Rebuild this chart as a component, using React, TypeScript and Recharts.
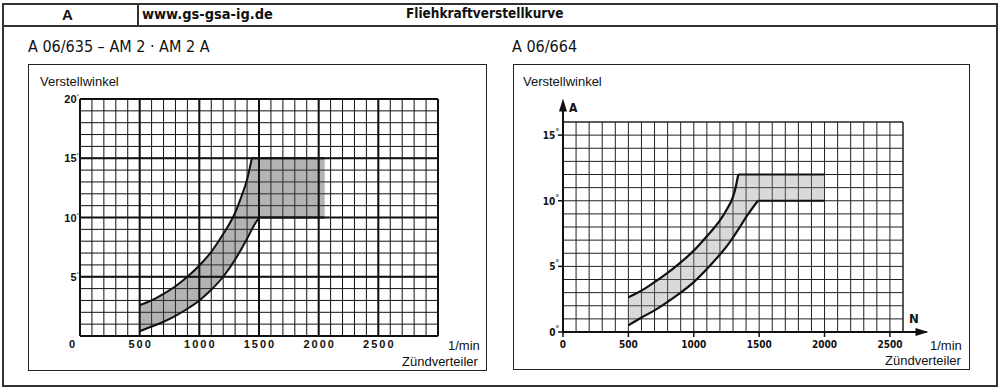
import React from "react";
import {
  ComposedChart,
  Area,
  Line,
  XAxis,
  YAxis,
  CartesianGrid,
  ReferenceLine,
  ReferenceDot,
} from "recharts";

// A 06/635 – AM 2 · AM 2 A (left diagram), degrees vs. rpm
const leftRpm = [500, 600, 700, 800, 900, 1000, 1100, 1200, 1300, 1350, 1400, 1440, 1500, 2050];
const leftUpper = [2.6, 3.0, 3.55, 4.2, 5.0, 5.95, 7.1, 8.6, 10.4, 11.7, 13.2, 15, 15, 15];
const leftLower = [0.4, 0.8, 1.2, 1.7, 2.3, 3.0, 3.9, 5.0, 6.45, 7.3, 8.2, 9.0, 10, 10];
const leftKnee = { upper: 1440, lower: 1500 };

// A 06/664 (right diagram)
const rightRpm = [500, 600, 700, 800, 900, 1000, 1100, 1200, 1250, 1300, 1320, 1340, 1400, 1490, 2000];
const rightUpper = [2.65, 3.15, 3.8, 4.5, 5.3, 6.2, 7.3, 8.5, 9.3, 10.3, 11.0, 12, 12, 12, 12];
const rightLower = [0.5, 1.1, 1.65, 2.3, 3.0, 3.8, 4.8, 5.9, 6.5, 7.2, 7.5, 7.8, 8.75, 10, 10];
const rightKnee = { upper: 1340, lower: 1490 };

// tick labels
const leftXLabels = [0, 500, 1000, 1500, 2000, 2500];
const leftYLabels = [5, 10, 15, 20];
const rightXLabels = [0, 500, 1000, 1500, 2000, 2500];
const rightYLabels = [0, 5, 10, 15];

const range = (from: number, to: number, step: number) => {
  const out: number[] = [];
  for (let v = from; v <= to; v += step) out.push(v);
  return out;
};

const SANS = "'Liberation Sans', Arial, Helvetica, sans-serif";
const NARROW = "'DejaVu Sans Condensed', 'Liberation Sans', sans-serif";

function buildRows(rpm: number[], upper: number[], lower: number[], knee: { upper: number; lower: number }) {
  return rpm.map((n, i) => ({
    rpm: n,
    band: [lower[i], upper[i]],
    upperCurve: n <= knee.upper ? upper[i] : null,
    upperFlat: n >= knee.upper ? upper[i] : null,
    lowerCurve: n <= knee.lower ? lower[i] : null,
    lowerFlat: n >= knee.lower ? lower[i] : null,
  }));
}

const leftRows = buildRows(leftRpm, leftUpper, leftLower, leftKnee);
const rightRows = buildRows(rightRpm, rightUpper, rightLower, rightKnee);

// ---------- ticks ----------
const LeftXTick = ({ x, y, payload }: any) => {
  const v = payload.value;
  if (!leftXLabels.includes(v)) return <g />;
  return (
    <text
      x={v === 0 ? x - 8 : x}
      dx={1}
      y={y + 12}
      textAnchor="middle"
      fontSize={11}
      fontWeight="bold"
      letterSpacing={2}
      fill="#111"
      fontFamily={SANS}
    >
      {v}
    </text>
  );
};

const LeftYTick = ({ x, y, payload }: any) => {
  const v = payload.value;
  if (!leftYLabels.includes(v)) return <g />;
  return (
    <text x={x - 1} y={y + 4} textAnchor="end" fontSize={11} fontWeight="bold" fill="#111" fontFamily={SANS}>
      <tspan>{v}</tspan>
      <tspan dy={-5} fontSize={6} fontWeight="normal">°</tspan>
    </text>
  );
};

const RightXTick = ({ x, y, payload }: any) => {
  const v = payload.value;
  if (!rightXLabels.includes(v)) return <g />;
  return (
    <g>
      <line x1={x} x2={x} y1={y} y2={y + 5} stroke="#111" strokeWidth={1.5} />
      <text x={x} y={y + 16} textAnchor="middle" fontSize={10} fontWeight="bold" fill="#111" fontFamily={NARROW}>
        {v}
      </text>
    </g>
  );
};

const RightYTick = ({ x, y, payload }: any) => {
  const v = payload.value;
  if (!rightYLabels.includes(v)) return <g />;
  return (
    <g>
      <line x1={x - 5} x2={x} y1={y} y2={y} stroke="#111" strokeWidth={1.5} />
      <text x={x - 4} y={y + 4} textAnchor="end" fontSize={10} fontWeight="bold" fill="#111" fontFamily={NARROW}>
        <tspan>{v}</tspan>
        <tspan dy={-4} fontSize={8}>°</tspan>
      </text>
    </g>
  );
};

const ArrowRight = ({ cx, cy }: any) => (
  <polygon points={`${cx},${cy} ${cx - 13},${cy - 4} ${cx - 13},${cy + 4}`} fill="#111" />
);
const ArrowUp = ({ cx, cy }: any) => (
  <polygon points={`${cx},${cy} ${cx - 4},${cy + 13} ${cx + 4},${cy + 13}`} fill="#111" />
);

// ---------- left diagram ----------
function LeftDiagram() {
  const xMinor = range(0, 3000, 100);
  const yMinor = range(0, 20, 1);
  const xMajor = range(0, 3000, 500);
  const yMajor = range(0, 20, 5);
  return (
    <ComposedChart
      width={459}
      height={307}
      data={leftRows}
      margin={{ top: 35, right: 49, bottom: 5, left: 0 }}
    >
      <CartesianGrid stroke="#111" strokeWidth={1} />
      <XAxis
        type="number"
        dataKey="rpm"
        domain={[0, 3000]}
        ticks={xMinor}
        interval={0}
        axisLine={false}
        tickLine={false}
        tickSize={0}
        tickMargin={0}
        height={30}
        tick={<LeftXTick />}
      />
      <YAxis
        type="number"
        domain={[0, 20]}
        ticks={yMinor}
        interval={0}
        axisLine={false}
        tickLine={false}
        tickSize={0}
        tickMargin={0}
        width={52}
        tick={<LeftYTick />}
      />
      {xMajor.map((v) => (
        <ReferenceLine key={`x${v}`} x={v} stroke="#111" strokeWidth={2} />
      ))}
      {yMajor.map((v) => (
        <ReferenceLine key={`y${v}`} y={v} stroke="#111" strokeWidth={2} />
      ))}
      <Area
        type="monotone"
        dataKey="band"
        stroke="none"
        fill="#4a4a4a"
        fillOpacity={0.42}
        isAnimationActive={false}
      />
      <Line type="monotone" dataKey="upperCurve" stroke="#111" strokeWidth={2} dot={false} isAnimationActive={false} />
      <Line type="linear" dataKey="upperFlat" stroke="#111" strokeWidth={2} dot={false} isAnimationActive={false} />
      <Line type="monotone" dataKey="lowerCurve" stroke="#111" strokeWidth={2} dot={false} isAnimationActive={false} />
      <Line type="linear" dataKey="lowerFlat" stroke="#111" strokeWidth={2} dot={false} isAnimationActive={false} />
    </ComposedChart>
  );
}

// ---------- right diagram ----------
function RightDiagram() {
  const xMinor = range(0, 2600, 100);
  const yMinor = range(0, 16, 1);
  return (
    <ComposedChart
      width={457}
      height={306}
      data={rightRows}
      margin={{ top: 58, right: 67, bottom: 8, left: 0 }}
    >
      <CartesianGrid stroke="#222" strokeWidth={1} />
      <XAxis
        type="number"
        dataKey="rpm"
        domain={[0, 2600]}
        ticks={xMinor}
        interval={0}
        axisLine={false}
        tickLine={false}
        tickSize={0}
        tickMargin={0}
        height={30}
        tick={<RightXTick />}
      />
      <YAxis
        type="number"
        domain={[0, 16]}
        ticks={yMinor}
        interval={0}
        axisLine={false}
        tickLine={false}
        tickSize={0}
        tickMargin={0}
        width={50}
        tick={<RightYTick />}
      />
      <ReferenceLine x={2600} stroke="#222" strokeWidth={1} />
      <ReferenceLine y={16} stroke="#222" strokeWidth={1} />
      <Area
        type="monotone"
        dataKey="band"
        stroke="none"
        fill="#8c8c8c"
        fillOpacity={0.32}
        isAnimationActive={false}
      />
      <Line type="monotone" dataKey="upperCurve" stroke="#111" strokeWidth={2.2} dot={false} isAnimationActive={false} />
      <Line type="linear" dataKey="upperFlat" stroke="#111" strokeWidth={2.2} dot={false} isAnimationActive={false} />
      <Line type="monotone" dataKey="lowerCurve" stroke="#111" strokeWidth={2.2} dot={false} isAnimationActive={false} />
      <Line type="linear" dataKey="lowerFlat" stroke="#111" strokeWidth={2.2} dot={false} isAnimationActive={false} />
      {/* axes with arrows */}
      <ReferenceLine
        segment={[{ x: 0, y: 0 }, { x: 2780, y: 0 }]}
        ifOverflow="visible"
        stroke="#111"
        strokeWidth={2}
      />
      <ReferenceLine
        segment={[{ x: 0, y: 0 }, { x: 0, y: 17.5 }]}
        ifOverflow="visible"
        stroke="#111"
        strokeWidth={2}
      />
      <ReferenceDot x={2795} y={0} ifOverflow="visible" shape={<ArrowRight />} />
      <ReferenceDot x={0} y={17.8} ifOverflow="visible" shape={<ArrowUp />} />
    </ComposedChart>
  );
}

const abs = (left: number, top: number, extra: React.CSSProperties = {}): React.CSSProperties => ({
  position: "absolute",
  left,
  top,
  whiteSpace: "nowrap",
  lineHeight: 1,
  ...extra,
});

const rule = "2px solid #333";

export default function App() {
  return (
    <div
      style={{
        position: "fixed",
        left: 0,
        top: 0,
        width: 1000,
        height: 390,
        background: "#fff",
        color: "#111",
        fontFamily: SANS,
        overflow: "hidden",
      }}
    >
      {/* outer frame and header row */}
      <div style={abs(2, 3, { width: 992, height: 380, border: rule })} />
      <div style={abs(2, 25, { width: 994, height: 0, borderTop: rule })} />
      <div style={abs(137, 3, { width: 0, height: 23, borderLeft: rule })} />
      <div style={abs(62, 7, { fontSize: 15, fontWeight: "bold" })}>A</div>
      <div style={abs(142, 7, { fontSize: 14.5, fontWeight: "bold", fontFamily: NARROW })}>www.gs-gsa-ig.de</div>
      <div style={abs(406, 7, { fontSize: 13.5, fontWeight: "bold", fontFamily: NARROW })}>
        Fliehkraftverstellkurve
      </div>

      {/* titles */}
      <div style={abs(28, 39, { fontSize: 16, fontFamily: NARROW })}>A 06/635 – AM 2 · AM 2 A</div>
      <div style={abs(512, 39, { fontSize: 16, fontFamily: NARROW })}>A 06/664</div>

      {/* left box */}
      <div style={abs(28, 64, { width: 457, height: 305, border: "1.5px solid #222" })} />
      <div style={abs(28, 64)}>
        <LeftDiagram />
      </div>
      <div style={abs(40, 75, { fontSize: 13 })}>Verstellwinkel</div>
      <div style={abs(448, 339, { fontSize: 13 })}>1/min</div>
      <div style={abs(402, 355, { fontSize: 13 })}>Zündverteiler</div>

      {/* right box */}
      <div style={abs(513, 64, { width: 455, height: 304, border: "1.5px solid #222" })} />
      <div style={abs(513, 64)}>
        <RightDiagram />
      </div>
      <div style={abs(523, 75, { fontSize: 13 })}>Verstellwinkel</div>
      <div style={abs(569, 102, { fontSize: 12, fontWeight: "bold", fontFamily: NARROW })}>A</div>
      <div style={abs(909, 312, { fontSize: 13, fontWeight: "bold", fontFamily: NARROW })}>N</div>
      <div style={abs(930, 339, { fontSize: 13 })}>1/min</div>
      <div style={abs(885, 354, { fontSize: 13 })}>Zündverteiler</div>
    </div>
  );
}
